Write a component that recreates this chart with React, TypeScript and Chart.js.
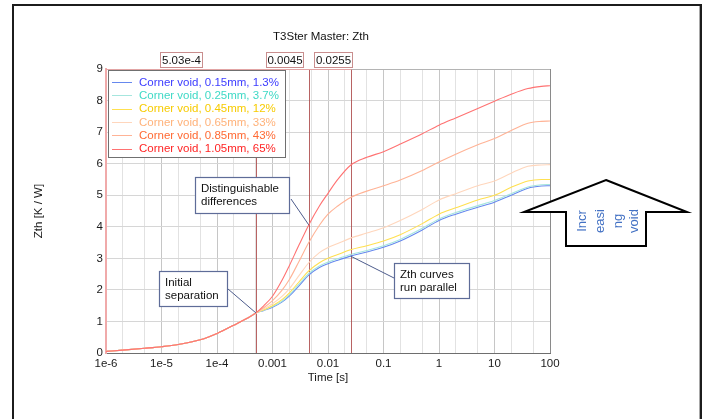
import React, { useEffect, useRef } from 'react';
import { Chart, registerables } from 'chart.js';

Chart.register(...registerables);

const FONT = "'Liberation Sans', Arial, sans-serif";
const FS = 11.5;

// Time points [s]
const times = [
  1e-6, 2e-6, 5e-6, 1e-5, 2e-5, 5e-5, 1e-4, 2e-4, 3.5e-4, 5.03e-4,
  7e-4, 1e-3, 1.5e-3, 2e-3, 3e-3, 4.5e-3, 7e-3, 0.01, 0.015, 0.0255,
  0.05, 0.1, 0.2, 0.5, 1, 2, 5, 10, 20, 40, 70, 100,
];

// Shared start of all Zth curves (up to the separation point)
const sharedStart = [0.05, 0.09, 0.15, 0.2, 0.27, 0.42, 0.62, 0.88, 1.1, 1.27];

const void015 = [1.35, 1.45, 1.62, 1.8, 2.13, 2.47, 2.71, 2.83, 2.94, 3.07, 3.2, 3.35, 3.55, 3.9, 4.2, 4.4, 4.62, 4.78, 5.0, 5.22, 5.29, 5.3];
const void025 = [1.36, 1.47, 1.65, 1.84, 2.18, 2.52, 2.76, 2.88, 2.99, 3.12, 3.25, 3.4, 3.6, 3.95, 4.25, 4.45, 4.67, 4.83, 5.05, 5.26, 5.33, 5.34];
const void045 = [1.37, 1.5, 1.7, 1.9, 2.25, 2.6, 2.86, 3.0, 3.12, 3.27, 3.4, 3.55, 3.75, 4.1, 4.4, 4.6, 4.85, 5.0, 5.25, 5.45, 5.5, 5.5];
const void065 = [1.4, 1.56, 1.8, 2.03, 2.45, 2.86, 3.18, 3.34, 3.47, 3.64, 3.8, 3.97, 4.2, 4.55, 4.85, 5.05, 5.3, 5.45, 5.7, 5.92, 5.96, 5.97];
const void085 = [1.44, 1.66, 2.0, 2.32, 2.9, 3.5, 4.05, 4.4, 4.66, 4.93, 5.13, 5.3, 5.48, 5.78, 6.05, 6.3, 6.6, 6.8, 7.05, 7.28, 7.34, 7.35];
const void105 = [1.5, 1.8, 2.32, 2.76, 3.42, 4.06, 4.66, 5.06, 5.5, 5.95, 6.2, 6.38, 6.62, 6.95, 7.22, 7.45, 7.75, 7.98, 8.2, 8.38, 8.45, 8.47];

const seriesLabels = [
  'Corner void, 0.15mm, 1.3%',
  'Corner void, 0.25mm, 3.7%',
  'Corner void, 0.45mm, 12%',
  'Corner void, 0.65mm, 33%',
  'Corner void, 0.85mm, 43%',
  'Corner void, 1.05mm, 65%',
];
const seriesTails = [void015, void025, void045, void065, void085, void105];
const lineColors = ['#6688ee', '#a6e6de', '#ffe050', '#ffd6bc', '#ffb396', '#ff7272'];
const textColors = ['#3c3cff', '#3fd9c6', '#f7cb00', '#ffb27a', '#ff6a34', '#ff2424'];

// Cursor markers
const markerTimes = [5.03e-4, 0.0045, 0.0255];
const markerLabels = ['5.03e-4', '0.0045', '0.0255'];

// Axis ticks
const xGridValues = [1e-6, 2e-6, 5e-6, 1e-5, 2e-5, 5e-5, 1e-4, 2e-4, 5e-4, 1e-3, 2e-3, 5e-3, 0.01, 0.02, 0.05, 0.1, 0.2, 0.5, 1, 2, 5, 10, 20, 50, 100];
const xTickLabels = ['1e-6', '1e-5', '1e-4', '0.001', '0.01', '0.1', '1', '10', '100'];

const arrowWords = ['Incr', 'easi', 'ng', 'void'];

function fullSeries(i: number) {
  return sharedStart.concat(seriesTails[i]);
}
function valueAt(i: number, t: number) {
  return fullSeries(i)[times.indexOf(t)];
}

const overlay = {
  id: 'overlay',
  beforeDatasetsDraw(chart: any) {
    const { ctx, chartArea: a, scales } = chart;
    const x = scales.x;
    ctx.save();
    ctx.strokeStyle = 'rgba(172,72,72,0.85)';
    ctx.lineWidth = 1;
    markerTimes.forEach((t) => {
      const px = Math.round(x.getPixelForValue(t)) + 0.5;
      ctx.beginPath();
      ctx.moveTo(px, a.top);
      ctx.lineTo(px, a.bottom);
      ctx.stroke();
    });
    ctx.restore();
  },
  afterDraw(chart: any) {
    const { ctx, chartArea: a, scales } = chart;
    const x = scales.x;
    const y = scales.y;
    ctx.save();

    // plot top / right borders
    const lastMarker = Math.round(x.getPixelForValue(markerTimes[markerTimes.length - 1])) + 0.5;
    ctx.lineWidth = 1;
    ctx.strokeStyle = '#e2a4a4';
    ctx.beginPath();
    ctx.moveTo(a.left, a.top + 0.5);
    ctx.lineTo(lastMarker, a.top + 0.5);
    ctx.stroke();
    ctx.strokeStyle = '#b4b4b4';
    ctx.beginPath();
    ctx.moveTo(lastMarker, a.top + 0.5);
    ctx.lineTo(a.right, a.top + 0.5);
    ctx.stroke();
    ctx.strokeStyle = '#8a8a8a';
    ctx.beginPath();
    ctx.moveTo(Math.round(a.right) + 0.5, a.top);
    ctx.lineTo(Math.round(a.right) + 0.5, a.bottom);
    ctx.stroke();

    // marker label boxes
    const markerBoxes = [
      { x: 160, w: 42 },
      { x: 266, w: 37 },
      { x: 314, w: 38 },
    ];
    ctx.font = `${FS}px ${FONT}`;
    ctx.textBaseline = 'middle';
    ctx.textAlign = 'center';
    markerLabels.forEach((lab, i) => {
      const b = markerBoxes[i];
      ctx.fillStyle = '#ffffff';
      ctx.fillRect(b.x, 52, b.w, 15);
      ctx.strokeStyle = '#c98e8e';
      ctx.lineWidth = 1;
      ctx.strokeRect(b.x + 0.5, 52.5, b.w, 15);
      ctx.fillStyle = '#111111';
      ctx.fillText(lab, b.x + b.w / 2 + 0.5, 60.5);
    });

    // legend
    const lx = 108.5, ly = 70.5, lw = 177, lh = 87;
    ctx.fillStyle = '#ffffff';
    ctx.fillRect(lx, ly, lw, lh);
    ctx.strokeStyle = '#707070';
    ctx.lineWidth = 1;
    ctx.strokeRect(lx, ly, lw, lh);
    ctx.textAlign = 'left';
    seriesLabels.forEach((lab, i) => {
      const ry = 82 + i * 13.3;
      ctx.strokeStyle = lineColors[i];
      ctx.beginPath();
      ctx.moveTo(112, Math.round(ry) + 0.5);
      ctx.lineTo(132, Math.round(ry) + 0.5);
      ctx.stroke();
      ctx.fillStyle = textColors[i];
      ctx.fillText(lab, 139, ry + 0.5);
    });

    // annotations
    const annotations = [
      { box: [195, 177, 94, 36], lines: ['Distinguishable', 'differences'], from: [291, 199], series: 5, t: 0.0045 },
      { box: [159, 271, 68, 35], lines: ['Initial', 'separation'], from: [228, 289], series: 5, t: 5.03e-4 },
      { box: [394, 263, 75, 35], lines: ['Zth curves', 'run parallel'], from: [394, 278], series: 0, t: 0.0255 },
    ];
    annotations.forEach((an) => {
      const px = x.getPixelForValue(an.t);
      const py = y.getPixelForValue(valueAt(an.series, an.t));
      ctx.strokeStyle = '#4d5c8c';
      ctx.lineWidth = 1;
      ctx.beginPath();
      ctx.moveTo(an.from[0], an.from[1]);
      ctx.lineTo(px, py);
      ctx.stroke();
      const [bx, by, bw, bh] = an.box;
      ctx.fillStyle = '#ffffff';
      ctx.fillRect(bx, by, bw, bh);
      ctx.strokeStyle = '#5e6c98';
      ctx.lineWidth = 1.2;
      ctx.strokeRect(bx + 0.5, by + 0.5, bw, bh);
      ctx.fillStyle = '#111111';
      ctx.textAlign = 'left';
      an.lines.forEach((ln, k) => {
        ctx.fillText(ln, bx + 6, by + 12 + k * 13);
      });
    });

    // title
    ctx.fillStyle = '#111111';
    ctx.textAlign = 'center';
    ctx.font = `${FS}px ${FONT}`;
    ctx.fillText('T3Ster Master: Zth', 321, 37);

    // arrow
    ctx.beginPath();
    ctx.moveTo(606, 180);
    ctx.lineTo(687, 212);
    ctx.lineTo(646, 212);
    ctx.lineTo(646, 246);
    ctx.lineTo(566, 246);
    ctx.lineTo(566, 212);
    ctx.lineTo(524, 212);
    ctx.closePath();
    ctx.fillStyle = '#ffffff';
    ctx.fill();
    ctx.strokeStyle = '#000000';
    ctx.lineWidth = 2;
    ctx.lineJoin = 'miter';
    ctx.stroke();
    const wordX = [582, 600, 618.5, 634];
    ctx.font = `13px ${FONT}`;
    ctx.fillStyle = '#4472c4';
    arrowWords.forEach((w, i) => {
      ctx.save();
      ctx.translate(wordX[i], 221);
      ctx.rotate(-Math.PI / 2);
      ctx.textAlign = 'center';
      ctx.textBaseline = 'middle';
      ctx.fillText(w, 0, 0);
      ctx.restore();
    });

    // outer frame
    ctx.strokeStyle = '#1c1c1c';
    ctx.lineWidth = 2;
    ctx.beginPath();
    ctx.moveTo(13, 430);
    ctx.lineTo(13, 5);
    ctx.lineTo(701, 5);
    ctx.lineTo(701, 430);
    ctx.stroke();
    ctx.strokeStyle = '#a8a8a8';
    ctx.lineWidth = 1;
    ctx.beginPath();
    ctx.moveTo(699.5, 6);
    ctx.lineTo(699.5, 430);
    ctx.stroke();

    ctx.restore();
  },
};

export default function App() {
  const ref = useRef<HTMLCanvasElement | null>(null);

  useEffect(() => {
    if (!ref.current) return;
    const datasets = seriesLabels.map((lab, i) => ({
      label: lab,
      data: fullSeries(i).map((v, k) => ({ x: times[k], y: v })),
      borderColor: lineColors[i],
      backgroundColor: lineColors[i],
      borderWidth: 1.1,
      pointRadius: 0,
      fill: false,
      order: seriesLabels.length - 1 - i,
      cubicInterpolationMode: 'monotone' as const,
    }));
    const chart = new Chart(ref.current, {
      type: 'line',
      data: { datasets },
      options: {
        animation: false,
        responsive: false,
        maintainAspectRatio: false,
        layout: { padding: { left: 0, top: 69, right: 159, bottom: 0 } },
        plugins: {
          legend: { display: false },
          tooltip: { enabled: false },
          title: { display: false },
        },
        scales: {
          x: {
            type: 'logarithmic',
            min: 1e-6,
            max: 100,
            afterBuildTicks: (s: any) => {
              s.ticks = xGridValues.map((v) => ({ value: v }));
            },
            afterFit: (s: any) => {
              s.height = 66;
            },
            ticks: {
              autoSkip: false,
              maxRotation: 0,
              minRotation: 0,
              padding: 4,
              color: '#1a1a1a',
              font: { family: FONT, size: FS },
              callback: (_v: any, i: number) => (i % 3 === 0 ? xTickLabels[i / 3] : ''),
            },
            grid: {
              drawTicks: false,
              color: (c: any) => (c.index % 3 === 0 ? '#c6c6c6' : '#e2e2e2'),
              lineWidth: 1,
            },
            border: { color: '#6e6e6e', width: 1 },
            title: {
              display: true,
              text: 'Time [s]',
              color: '#1a1a1a',
              font: { family: FONT, size: FS },
              padding: { top: 0, bottom: 34 },
            },
          },
          y: {
            min: 0,
            max: 9,
            afterFit: (s: any) => {
              s.width = 106;
            },
            ticks: {
              stepSize: 1,
              padding: 3,
              color: '#1a1a1a',
              font: { family: FONT, size: FS },
            },
            grid: { drawTicks: false, color: '#d6d6d6', lineWidth: 1 },
            border: { color: '#f0aaaa', width: 2 },
            title: {
              display: true,
              text: 'Zth [K / W]',
              color: '#1a1a1a',
              font: { family: FONT, size: FS },
              padding: { top: 32, bottom: 0 },
            },
          },
        },
      } as any,
      plugins: [overlay],
    });
    return () => chart.destroy();
  }, []);

  return (
    <div style={{ position: 'absolute', left: 0, top: 0, width: 709, height: 419, background: '#ffffff' }}>
      <canvas ref={ref} width={709} height={419} style={{ display: 'block', width: 709, height: 419 }} />
    </div>
  );
}
